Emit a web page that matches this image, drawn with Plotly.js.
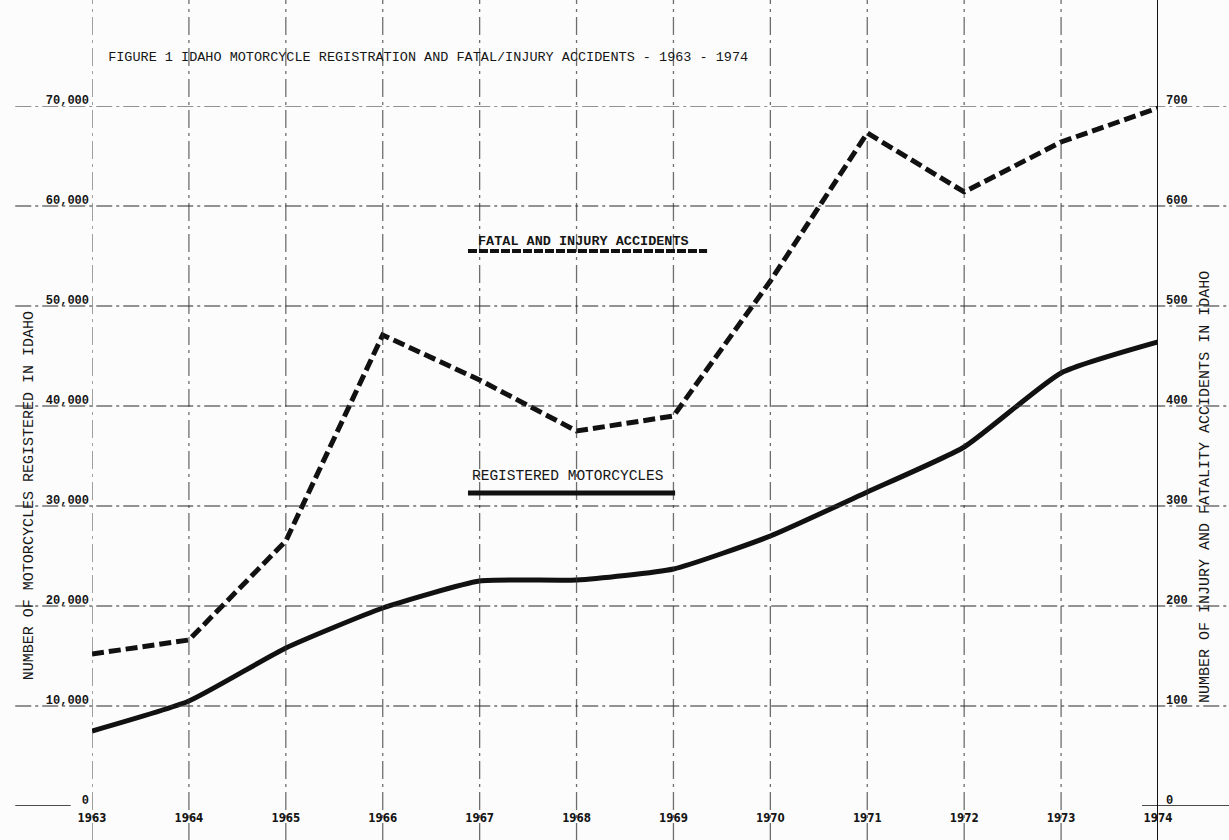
<!DOCTYPE html>
<html>
<head>
<meta charset="utf-8">
<script src="https://cdn.plot.ly/plotly-3.0.1.min.js"></script>
<style>
  html, body { margin: 0; padding: 0; background: #fcfcfc; }
  #chart { width: 1229px; height: 840px; }
</style>
</head>
<body>
<div id="chart"></div>
<script>
// Idaho motorcycle registrations and fatal/injury accidents, 1963-1974
const years = [1963, 1964, 1965, 1966, 1967, 1968, 1969, 1970, 1971, 1972, 1973, 1974];
const registeredMotorcycles = [7500, 10500, 15800, 19800, 22500, 22600, 23700, 27000, 31400, 35900, 43300, 46400];
const fatalInjuryAccidents = [152, 166, 265, 471, 426, 375, 390, 525, 673, 614, 664, 698];

const leftTicks = [0, 10000, 20000, 30000, 40000, 50000, 60000, 70000];
const rightTicks = [0, 100, 200, 300, 400, 500, 600, 700];

const mono = 'Liberation Mono, DejaVu Sans Mono, monospace';
const narrow = 'Liberation Sans Narrow, DejaVu Sans Condensed, sans-serif';
const textInk = '#161616';
const ink = '#111';
const gridInk = 'rgba(50,50,50,0.7)';

const valueFont = { family: mono, size: 12, color: textInk, weight: 'bold' };
const yearFont = { family: narrow, size: 11.5, color: textInk, weight: 'bold' };

// Ruled grid: horizontal rules run past both axes, vertical rules run the full sheet height
const shapes = [];
leftTicks.filter(v => v > 0).forEach(v => {
  shapes.push({
    type: 'line', xref: 'paper', yref: 'y', x0: -0.072, x1: 1.07, y0: v, y1: v,
    line: { color: gridInk, width: 1.3, dash: '16px,4px,3px,4px' }
  });
});
years.forEach(yr => {
  const isRight = yr === years[years.length - 1];
  shapes.push({
    type: 'line', xref: 'x', yref: 'paper', x0: yr, x1: yr, y0: -0.05, y1: 1.152,
    line: { color: isRight ? ink : gridInk, width: isRight ? 2 : 1.3, dash: isRight ? 'solid' : '18px,5px,3px,5px' }
  });
});
// short base rules at the zero level
shapes.push({ type: 'line', xref: 'paper', yref: 'y', x0: -0.072, x1: -0.02, y0: 0, y1: 0, line: { color: ink, width: 1.3 } });
shapes.push({ type: 'line', xref: 'paper', yref: 'y', x0: 0.985, x1: 1.07, y0: 0, y1: 0, line: { color: ink, width: 1.3 } });

// Key swatches beneath the series labels
shapes.push({
  type: 'line', xref: 'paper', yref: 'paper', x0: 0.3527, x1: 0.577, y0: 0.793, y1: 0.793,
  line: { color: ink, width: 4, dash: '9px,2px' }
});
shapes.push({
  type: 'line', xref: 'paper', yref: 'paper', x0: 0.3527, x1: 0.547, y0: 0.447, y1: 0.447,
  line: { color: ink, width: 5 }
});

const traces = [
  {
    x: years, y: registeredMotorcycles, type: 'scatter', mode: 'lines',
    name: 'REGISTERED MOTORCYCLES', yaxis: 'y',
    line: { color: ink, width: 5, shape: 'spline', smoothing: 0.5 }
  },
  {
    x: years, y: fatalInjuryAccidents, type: 'scatter', mode: 'lines',
    name: 'FATAL AND INJURY ACCIDENTS', yaxis: 'y2',
    line: { color: ink, width: 5, dash: '12px,5px' }
  }
];

const layout = {
  width: 1229, height: 840,
  margin: { l: 92, r: 71, t: 106, b: 34 },
  paper_bgcolor: '#fcfcfc', plot_bgcolor: 'rgba(0,0,0,0)',
  showlegend: false,
  title: {
    text: 'FIGURE 1 IDAHO MOTORCYCLE REGISTRATION AND FATAL/INJURY ACCIDENTS - 1963 - 1974',
    font: { family: mono, size: 13.5, color: textInk },
    x: 0.088, xanchor: 'left', xref: 'container',
    y: 0.933, yanchor: 'middle', yref: 'container'
  },
  xaxis: {
    range: [1963, 1974], tickvals: years, ticktext: years.map(String),
    showgrid: false, zeroline: false, showline: false, ticks: '',
    tickfont: yearFont, ticklabelstandoff: 3
  },
  yaxis: {
    range: [0, 70000], tickvals: leftTicks, tickformat: ',',
    showgrid: false, zeroline: false, showline: false, ticks: '',
    tickfont: valueFont, ticklabelshift: -6, ticklabelstandoff: 2
  },
  yaxis2: {
    range: [0, 700], tickvals: rightTicks, overlaying: 'y', side: 'right',
    showgrid: false, zeroline: false, showline: false, ticks: '',
    tickfont: valueFont, ticklabelshift: -6, ticklabelstandoff: 7
  },
  shapes: shapes,
  annotations: [
    {
      text: 'NUMBER OF MOTORCYCLES REGISTERED IN IDAHO', xref: 'paper', yref: 'paper',
      x: -0.069, y: 0.444, textangle: -90, showarrow: false,
      font: { family: mono, size: 15, color: textInk }
    },
    {
      text: 'NUMBER OF INJURY AND FATALITY ACCIDENTS IN IDAHO', xref: 'paper', yref: 'paper',
      x: 1.055, y: 0.456, textangle: -90, showarrow: false,
      font: { family: mono, size: 15, color: textInk }
    },
    {
      text: 'FATAL AND INJURY ACCIDENTS', xref: 'paper', yref: 'paper',
      x: 0.36, y: 0.82, xanchor: 'left', showarrow: false,
      font: { family: mono, size: 13.5, color: textInk, weight: 'bold' }
    },
    {
      text: 'REGISTERED MOTORCYCLES', xref: 'paper', yref: 'paper',
      x: 0.355, y: 0.471, xanchor: 'left', showarrow: false,
      font: { family: mono, size: 14.5, color: textInk }
    }
  ]
};

Plotly.newPlot('chart', traces, layout, { displayModeBar: false, staticPlot: true });
</script>
</body>
</html>
